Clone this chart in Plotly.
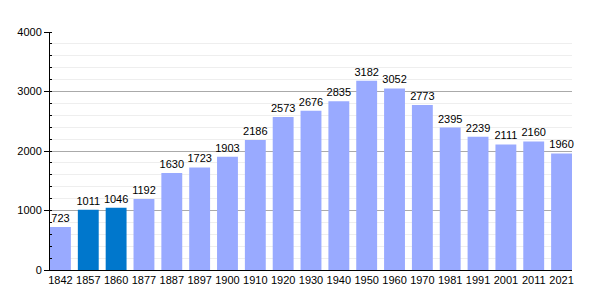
import plotly.graph_objects as go

years = ["1842", "1857", "1860", "1877", "1887", "1897", "1900", "1910", "1920", "1930",
         "1940", "1950", "1960", "1970", "1981", "1991", "2001", "2011", "2021"]
population = [723, 1011, 1046, 1192, 1630, 1723, 1903, 2186, 2573, 2676,
              2835, 3182, 3052, 2773, 2395, 2239, 2111, 2160, 1960]
highlight = ["1857", "1860"]

colors = ["#0077cc" if y in highlight else "#99aaff" for y in years]
bargap = 0.25
half = (1 - bargap) / 2

fig = go.Figure(go.Bar(
    x=years, y=population, marker=dict(color=colors, line=dict(width=0)),
    text=[str(v) for v in population], textposition="outside",
    textfont=dict(family="Liberation Sans, Arial, sans-serif", size=11, color="black"),
    cliponaxis=False,
))

fig.update_layout(
    width=600, height=300,
    margin=dict(l=50, r=28, t=32, b=30),
    plot_bgcolor="white", paper_bgcolor="white",
    bargap=bargap, showlegend=False,
    uniformtext=dict(minsize=11, mode="show"),
    font=dict(family="Liberation Sans, Arial, sans-serif", size=11, color="black"),
    xaxis=dict(type="category", range=[-half, len(years) - 1 + half],
               showline=True, linecolor="black", linewidth=1,
               ticks="", showgrid=False, tickfont=dict(size=11)),
    yaxis=dict(range=[0, 4000], dtick=1000, showline=True, linecolor="black", linewidth=1,
               ticks="outside", ticklen=5, tickcolor="black",
               showgrid=True, gridcolor="#aaaaaa", gridwidth=1, zeroline=False,
               tickfont=dict(size=11),
               minor=dict(dtick=200, showgrid=True, gridcolor="#eeeeee",
                          ticks="inside", ticklen=2, tickcolor="black")),
)

fig.write_html("out.html")
